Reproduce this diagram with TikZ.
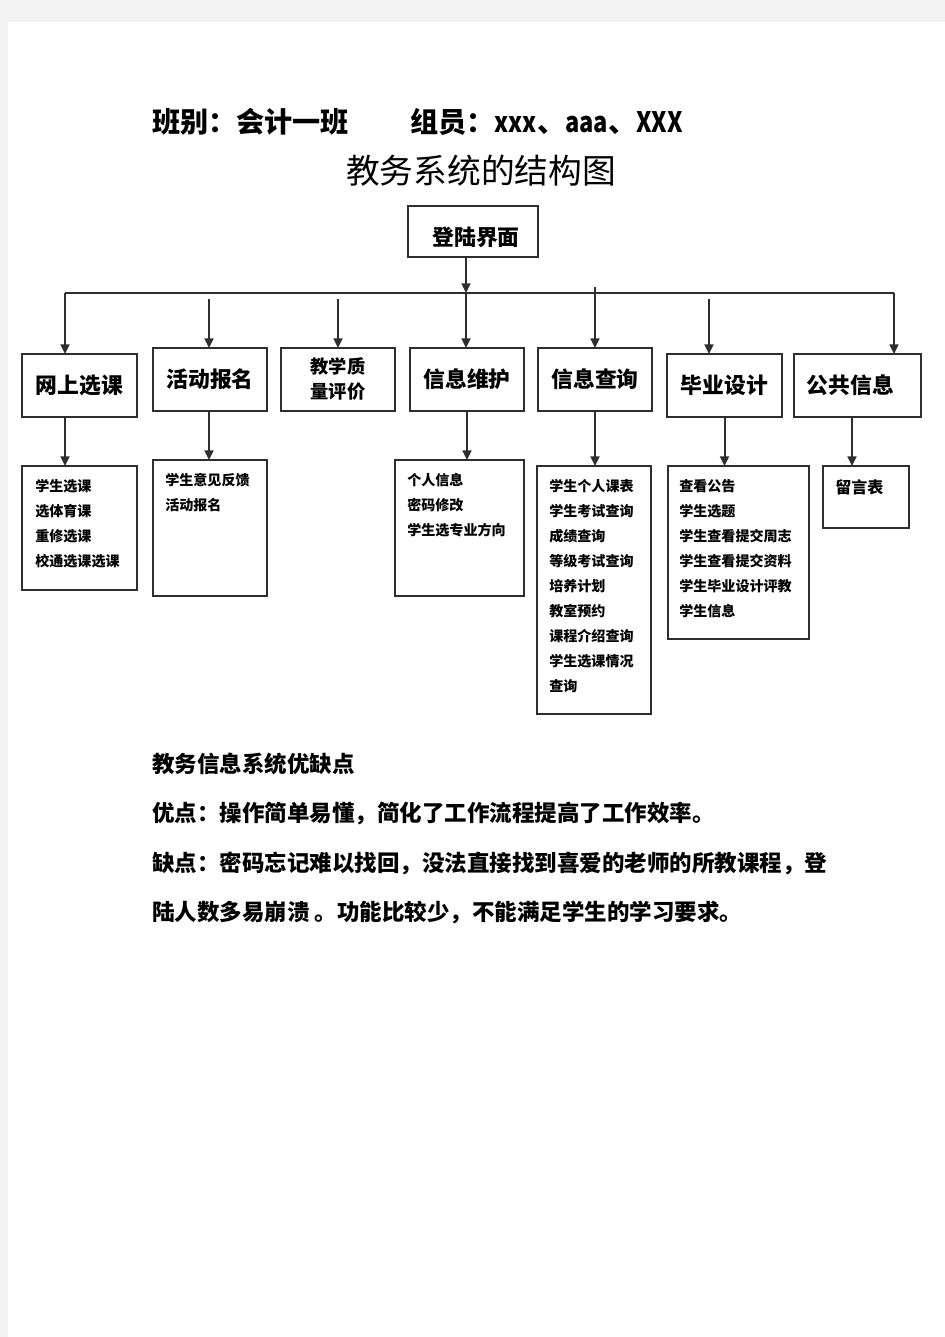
\documentclass[tikz,border=0pt]{standalone}
\usepackage{fontspec}
\setmainfont{Noto Sans CJK SC}
\usepackage{xcolor}
\usetikzlibrary{arrows.meta}
\definecolor{pagebg}{HTML}{F3F3F3}
\definecolor{linegray}{HTML}{2E2E2E}
\newcommand{\narrow}[1]{{\addfontfeature{FakeStretch=0.84}#1}}

\begin{document}
\begin{tikzpicture}[x=0.25mm, y=-0.25mm,
  box/.style={draw=linegray, line width=0.45mm, inner sep=0pt, outer sep=0pt},
  mainbox/.style={box, minimum height=15.75mm, font=\fontsize{15.5pt}{18pt}\selectfont\bfseries, text height=13.6pt, text depth=1.8pt},
  subbox/.style={box, anchor=north west},
  subtext/.style={anchor=north west, inner sep=0pt, align=left, font=\fontsize{10pt}{6.25mm}\selectfont\bfseries},
  arr/.style={draw=linegray, line width=0.5mm, -{Triangle[length=2.4mm,width=2.2mm]}},
  para/.style={anchor=base west, inner sep=0pt, font=\fontsize{16pt}{20pt}\selectfont\bfseries}]
\fill[pagebg] (0,0) rectangle (945,1337);
\fill[white] (8,22) rectangle (945,1337);

\node[anchor=base west, inner sep=0pt, font=\fontsize{20pt}{24pt}\selectfont\bfseries] (klass) at (152,132) {班别：会计一班};
\node[anchor=base west, inner sep=0pt, font=\fontsize{20pt}{24pt}\selectfont\bfseries] (members) at (410,132) {组员：\narrow{xxx}、\narrow{aaa}、\narrow{XXX}};
\node[anchor=base, inner sep=0pt, font=\fontsize{24pt}{28pt}\selectfont] (title) at (481,183) {教务系统的结构图};

\node[mainbox, minimum width=32.5mm, minimum height=12.75mm, text height=21.5pt] (login) at (473,231.5) {\hspace{1.5mm}登陆界面};

\node[mainbox, minimum width=28.75mm] (web) at (79.5,385.5) {网上选课};
\node[mainbox, minimum width=28.5mm] (act) at (210,379.5) {活动报名};
\node[box, minimum width=28.5mm, minimum height=15.75mm, align=center, font=\fontsize{13pt}{6.25mm}\selectfont\bfseries] (eval) at (338,379.5) {教学质\\量评价};
\node[mainbox, minimum width=28.5mm] (maint) at (467,379.5) {信息维护};
\node[mainbox, minimum width=28.5mm] (query) at (595,379.5) {信息查询};
\node[mainbox, minimum width=28.75mm] (grad) at (724.5,385.5) {毕业设计};
\node[mainbox, minimum width=31.75mm] (pub) at (857.5,385.5) {公共信息\kern3.5mm};

\node[subbox, minimum width=28.75mm, minimum height=31mm] (webs) at (22,466) {};
\node[subbox, minimum width=28.5mm, minimum height=34mm] (acts) at (153,460) {};
\node[subbox, minimum width=32.25mm, minimum height=34mm] (maints) at (395,460) {};
\node[subbox, minimum width=28.5mm, minimum height=62mm] (querys) at (537,466) {};
\node[subbox, minimum width=35.25mm, minimum height=43.25mm] (grads) at (668,466) {};
\node[subbox, minimum width=21.5mm, minimum height=15.5mm] (pubs) at (823,466) {};

\node[subtext] (websT) at ([shift={(13,13)}]webs.north west) {学生选课\\选体育课\\重修选课\\校通选课选课};
\node[subtext] (actsT) at ([shift={(12,13)}]acts.north west) {学生意见反馈\\活动报名};
\node[subtext] (maintsT) at ([shift={(12,13)}]maints.north west) {个人信息\\密码修改\\学生选专业方向};
\node[subtext] (querysT) at ([shift={(12,13)}]querys.north west) {学生个人课表\\学生考试查询\\成绩查询\\等级考试查询\\培养计划\\教室预约\\课程介绍查询\\学生选课情况\\查询};
\node[subtext] (gradsT) at ([shift={(11,13)}]grads.north west) {查看公告\\学生选题\\学生查看提交周志\\学生查看提交资料\\学生毕业设计评教\\学生信息};
\node[subtext, font=\fontsize{11.4pt}{14pt}\selectfont\bfseries] (pubsT) at ([shift={(12,13)}]pubs.north west) {留言表};

\coordinate (hub) at (466,293);
\coordinate (busW) at (65,293);
\coordinate (busE) at (894,293);
\coordinate (topAct) at (209,299);
\coordinate (topEval) at (338,299);
\coordinate (topQuery) at (595,287);
\coordinate (topGrad) at (709,299);
\coordinate (colPub) at (852,0);

\draw[linegray, line width=0.45mm] (busW) -- (busE);
\draw[arr] (login.south -| hub) -- (hub);
\draw[arr] (busW) -- (busW |- web.north);
\draw[arr] (topAct) -- (topAct |- act.north);
\draw[arr] (topEval) -- (topEval |- eval.north);
\draw[arr] (hub) -- (hub |- maint.north);
\draw[arr] (topQuery) -- (topQuery |- query.north);
\draw[arr] (topGrad) -- (topGrad |- grad.north);
\draw[arr] (busE) -- (busE |- pub.north);

\draw[arr] (web.south -| busW) -- (webs.north -| busW);
\draw[arr] (act.south -| topAct) -- (acts.north -| topAct);
\draw[arr] (maint.south) -- (maint.south |- maints.north);
\draw[arr] (query.south) -- (query.south |- querys.north);
\draw[arr] (grad.south) -- (grad.south |- grads.north);
\draw[arr] (pub.south -| colPub) -- (pubs.north -| colPub);

\node[para] (proscons) at (152,772.7) {教务信息系统优缺点};
\node[para] (pros) at (152,821.7) {优点：操作简单易懂，简化了工作流程提高了工作效率。};
\node[para] (cons1) at (152,871.7) {缺点：密码忘记难以找回，没法直接找到喜爱的老师的所教课程，登};
\node[para] (cons2) at (152,920.7) {陆人数多易崩溃 。功能比较少，不能满足学生的学习要求。};
\end{tikzpicture}
\end{document}
